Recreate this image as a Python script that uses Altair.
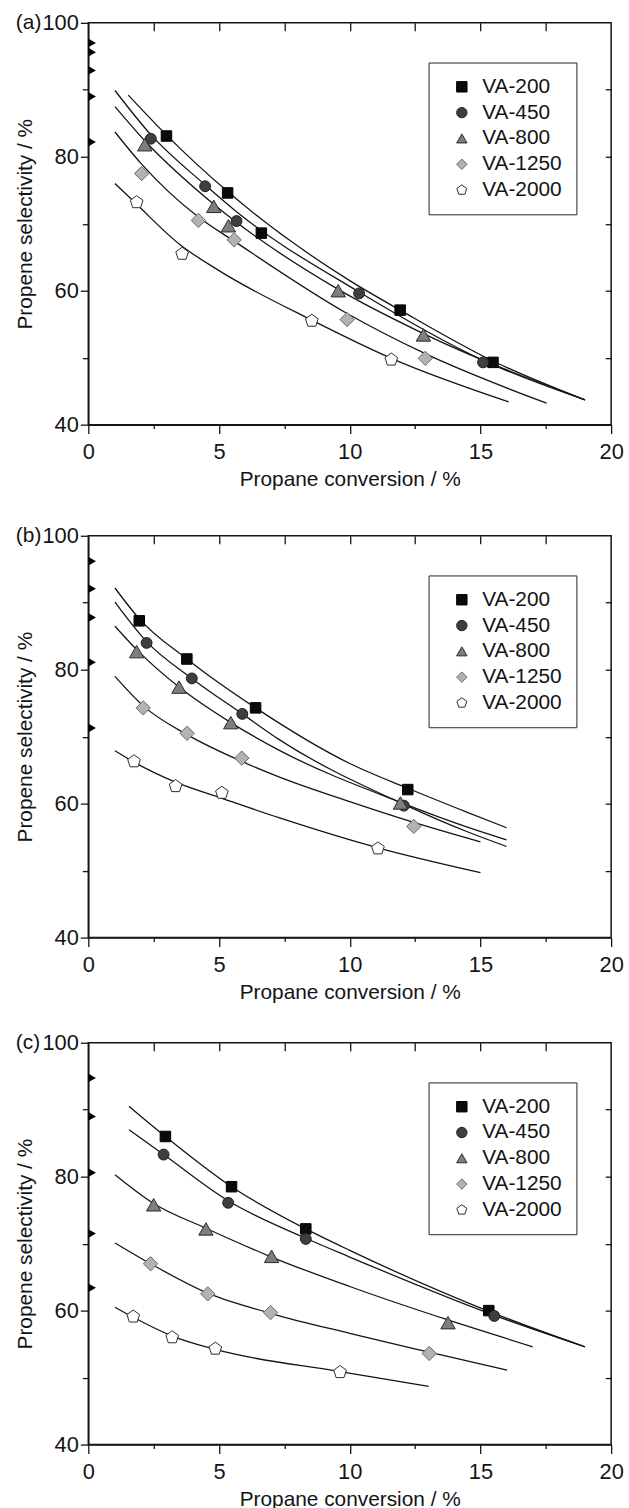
import altair as alt
import pandas as pd

# ---------------- data ----------------
SERIES = ["VA-200", "VA-450", "VA-800", "VA-1250", "VA-2000"]
X_TICKS = [0, 2.5, 5, 7.5, 10, 12.5, 15, 17.5, 20]
Y_TICKS = [40, 50, 60, 70, 80, 90, 100]
TOP_TICKS = [2.5, 5, 7.5, 10, 12.5, 15, 17.5]
RIGHT_TICKS = [50, 60, 70, 80, 90]
PANEL_TAGS = ["(a)", "(b)", "(c)"]

# panel (a) measured points
A_VA200 = [(2.99, 83.1), (5.33, 74.6), (6.62, 68.6), (11.93, 57.1), (15.48, 49.3)]
A_VA450 = [(2.39, 82.7), (4.47, 75.6), (5.67, 70.4), (10.36, 59.6), (15.10, 49.3)]
A_VA800 = [(2.16, 81.8), (4.80, 72.6), (5.36, 69.7), (9.56, 60.0), (12.82, 53.4)]
A_VA1250 = [(2.04, 77.5), (4.21, 70.5), (5.58, 67.6), (9.90, 55.7), (12.89, 49.9)]
A_VA2000 = [(1.85, 73.2), (3.59, 65.5), (8.55, 55.5), (11.59, 49.7)]
# panel (a) fitted curves
A_FIT_VA200 = [(1.53, 89.2), (3.0, 83.2), (5.33, 74.8), (10.0, 61.5), (11.93, 57.1), (15.48, 49.5), (19.0, 43.7)]
A_FIT_VA450 = [(1.02, 89.9), (2.39, 83.3), (4.44, 75.9), (5.67, 71.8), (10.36, 59.8), (15.1, 49.6), (19.0, 43.7)]
A_FIT_VA800 = [(1.02, 87.5), (2.16, 82.4), (4.8, 72.9), (9.56, 60.2), (12.82, 53.6), (19.0, 43.7)]
A_FIT_VA1250 = [(1.02, 83.7), (2.04, 78.9), (4.21, 71.0), (5.58, 67.4), (9.9, 56.6), (12.89, 50.6), (17.53, 43.2)]
A_FIT_VA2000 = [(1.02, 76.0), (1.85, 72.9), (3.5, 66.9), (5.0, 63.0), (8.55, 55.6), (11.59, 49.9), (16.08, 43.4)]
# panel (a) initial selectivities (markers on the y axis)
A_START = [97.0, 95.6, 92.9, 89.0, 82.2]

# panel (b)
B_VA200 = [(1.95, 87.3), (3.77, 81.6), (6.40, 74.3), (12.22, 62.1)]
B_VA450 = [(2.23, 84.0), (3.96, 78.7), (5.89, 73.4), (12.07, 59.7)]
B_VA800 = [(1.85, 82.7), (3.47, 77.4), (5.45, 72.1), (11.94, 60.1)]
B_VA1250 = [(2.10, 74.3), (3.78, 70.5), (5.87, 66.8), (12.45, 56.6)]
B_VA2000 = [(1.75, 66.3), (3.34, 62.6), (5.11, 61.6), (11.08, 53.3)]
B_FIT_VA200 = [(1.02, 92.2), (1.95, 87.6), (3.77, 81.6), (6.4, 74.3), (10.0, 66.0), (12.22, 62.3), (14.5, 58.7), (16.0, 56.4)]
B_FIT_VA450 = [(1.02, 90.1), (2.23, 84.2), (3.96, 78.7), (5.89, 73.4), (7.29, 69.6), (12.07, 59.9), (14.5, 55.8), (16.0, 53.6)]
B_FIT_VA800 = [(1.02, 86.5), (1.85, 83.0), (3.47, 77.4), (5.45, 72.1), (7.29, 68.0), (11.94, 60.2), (14.5, 56.5), (16.0, 54.6)]
B_FIT_VA1250 = [(1.02, 79.0), (2.1, 74.6), (3.78, 70.3), (5.87, 66.3), (7.29, 64.0), (10.0, 60.3), (12.45, 57.2), (15.0, 54.3)]
B_FIT_VA2000 = [(1.02, 67.9), (1.75, 66.2), (3.34, 63.2), (5.11, 60.8), (7.29, 57.9), (11.08, 53.4), (15.0, 49.7)]
B_START = [96.2, 92.1, 87.8, 81.1, 71.3]

# panel (c)
C_VA200 = [(2.95, 86.0), (5.48, 78.5), (8.32, 72.2), (15.32, 60.0)]
C_VA450 = [(2.88, 83.3), (5.35, 76.1), (8.32, 70.7), (15.53, 59.2)]
C_VA800 = [(2.50, 75.8), (4.50, 72.2), (7.01, 68.1), (13.76, 58.2)]
C_VA1250 = [(2.38, 67.0), (4.57, 62.5), (6.97, 59.7), (13.04, 53.6)]
C_VA2000 = [(1.72, 59.1), (3.21, 56.0), (4.86, 54.3), (9.63, 50.8)]
C_FIT_VA200 = [(1.56, 90.5), (2.95, 86.0), (5.48, 78.5), (8.32, 72.2), (10.0, 69.0), (15.32, 59.9), (19.0, 54.6)]
C_FIT_VA450 = [(1.56, 87.0), (2.88, 83.3), (5.35, 76.4), (8.32, 70.8), (10.0, 68.0), (15.53, 59.3), (19.0, 54.6)]
C_FIT_VA800 = [(1.02, 80.3), (2.5, 76.0), (4.5, 72.3), (7.01, 68.0), (10.0, 63.6), (13.76, 58.6), (17.0, 54.6)]
C_FIT_VA1250 = [(1.02, 70.1), (2.38, 67.0), (4.57, 62.6), (6.97, 59.6), (10.0, 56.6), (13.04, 53.8), (16.02, 51.1)]
C_FIT_VA2000 = [(1.02, 60.5), (1.72, 59.0), (3.21, 56.2), (4.86, 54.2), (9.63, 50.9), (13.02, 48.7)]
C_START = [94.75, 89.0, 80.6, 71.5, 63.4]

# ---------------- styles ----------------
PENTAGON = "M0,-1L0.951,-0.309L0.588,0.809L-0.588,0.809L-0.951,-0.309Z"
SHAPES = ["square", "circle", "triangle-up", "diamond", PENTAGON]
FILLS = ["#0a0a0a", "#3e3e3e", "#7e7e7e", "#b2b2b2", "#ffffff"]
STROKES = ["#000000", "#222222", "#2a2a2a", "#6a6a6a", "#2a2a2a"]
SIZES = [112, 121, 210, 210, 180]
FONT = "Liberation Sans"
INK = "#141414"


def to_frame(lists):
    rows = []
    for s, lst in zip(SERIES, lists):
        for x, y in lst:
            rows.append({"series": s, "x": x, "y": y})
    return pd.DataFrame(rows)


def build_panel(tag, pts_lists, fit_lists, starts):
    pts = to_frame(pts_lists)
    pts["sz"] = pts["series"].map(dict(zip(SERIES, SIZES)))
    fit = to_frame(fit_lists)
    icpt = pd.DataFrame({"series": SERIES, "x": [0.0] * len(starts), "y": starts})
    lab = pd.DataFrame({"label": [tag]})

    xs = alt.Scale(domain=[0, 20], nice=False, zero=False)
    ys = alt.Scale(domain=[40, 100], nice=False, zero=False)

    leg = alt.Legend(
        title=None, orient="none", legendX=343, legendY=40,
        strokeColor="#222222", fillColor="white", padding=14, rowPadding=4,
        symbolSize=110, symbolStrokeWidth=1, labelFont=FONT, labelFontSize=21,
        labelColor=INK, symbolOffset=9, labelOffset=10,
    )

    lines = alt.Chart(fit).mark_line(
        color=INK, strokeWidth=1.3, interpolate="monotone"
    ).encode(
        x=alt.X("x:Q", scale=xs, axis=alt.Axis(
            orient="bottom", values=X_TICKS,
            labelExpr="datum.value % 5 === 0 ? datum.label : ''",
            tickSize={"condition": {"test": "datum.value % 5 === 0", "value": 9}, "value": 4},
            title="Propane conversion / %", labelPadding=8, titlePadding=6,
        )),
        y=alt.Y("y:Q", scale=ys, axis=alt.Axis(
            orient="left", values=Y_TICKS,
            labelExpr="datum.value % 20 === 0 ? datum.label : ''",
            tickSize={"condition": {"test": "datum.value % 20 === 0", "value": 8}, "value": 6},
            title="Propene selectivity / %", labelPadding=2, titlePadding=7,
        )),
        detail="series:N",
    )

    marks = alt.Chart(pts).mark_point(filled=True, opacity=1, strokeWidth=1).encode(
        x=alt.X("x:Q", scale=xs, axis=None),
        y=alt.Y("y:Q", scale=ys, axis=None),
        shape=alt.Shape("series:N", scale=alt.Scale(domain=SERIES, range=SHAPES), legend=leg),
        fill=alt.Fill("series:N", scale=alt.Scale(domain=SERIES, range=FILLS), legend=leg),
        stroke=alt.Stroke("series:N", scale=alt.Scale(domain=SERIES, range=STROKES), legend=leg),
        size=alt.Size("sz:Q", scale=None),
    )

    arrows = alt.Chart(icpt).mark_point(
        shape="triangle-right", filled=True, color="#000000", size=80, opacity=1, xOffset=3.8
    ).encode(
        x=alt.X("x:Q", scale=xs, axis=None),
        y=alt.Y("y:Q", scale=ys, axis=None),
    )

    label = alt.Chart(lab).mark_text(
        align="left", baseline="middle", fontSize=21, font=FONT, color=INK
    ).encode(
        text="label:N", x=alt.value(-73), y=alt.value(0)
    )

    mirror = alt.Chart(pts).mark_point(opacity=0).encode(
        x=alt.X("x:Q", scale=xs, axis=alt.Axis(
            orient="top", values=TOP_TICKS, labels=False, domain=False,
            tickSize=8, offset=-8, title=None)),
        y=alt.Y("y:Q", scale=ys, axis=alt.Axis(
            orient="right", values=RIGHT_TICKS, labels=False, domain=False,
            tickSize=6, offset=-6, title=None)),
    )

    return alt.layer(lines, marks, arrows, label, mirror).resolve_axis(
        x="independent", y="independent"
    ).properties(width=527, height=405)


pa = build_panel(PANEL_TAGS[0],
                 [A_VA200, A_VA450, A_VA800, A_VA1250, A_VA2000],
                 [A_FIT_VA200, A_FIT_VA450, A_FIT_VA800, A_FIT_VA1250, A_FIT_VA2000],
                 A_START)
pb = build_panel(PANEL_TAGS[1],
                 [B_VA200, B_VA450, B_VA800, B_VA1250, B_VA2000],
                 [B_FIT_VA200, B_FIT_VA450, B_FIT_VA800, B_FIT_VA1250, B_FIT_VA2000],
                 B_START)
pc = build_panel(PANEL_TAGS[2],
                 [C_VA200, C_VA450, C_VA800, C_VA1250, C_VA2000],
                 [C_FIT_VA200, C_FIT_VA450, C_FIT_VA800, C_FIT_VA1250, C_FIT_VA2000],
                 C_START)

top_pair = alt.vconcat(pa, pb, spacing=34).resolve_scale(
    shape="independent", fill="independent", stroke="independent"
)

chart = alt.vconcat(top_pair, pc, spacing=28).resolve_scale(
    shape="independent", fill="independent", stroke="independent"
).properties(
    padding={"left": 13, "top": 5, "right": 5, "bottom": 0}
).configure(
    font=FONT, background="white"
).configure_view(
    stroke=INK, strokeWidth=1.5
).configure_axis(
    grid=False, labelFont=FONT, titleFont=FONT, labelFontSize=22, titleFontSize=21,
    titleFontWeight="normal", labelColor=INK, titleColor=INK,
    domainColor=INK, tickColor=INK, domainWidth=1.5, tickWidth=1.3,
    labelFlush=False, labelOverlap=False, labelBound=False,
)

chart.save("out.html", embed_options={"renderer": "svg", "actions": False})
